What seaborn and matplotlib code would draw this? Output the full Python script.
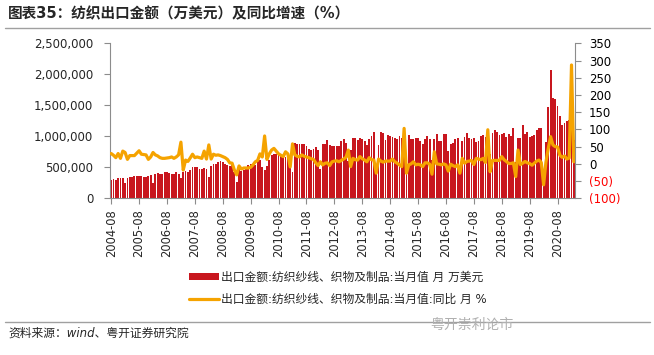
import matplotlib
matplotlib.use("Agg")
import matplotlib.pyplot as plt
from matplotlib.lines import Line2D
from matplotlib.patches import Patch
import pandas as pd
import seaborn as sns

# monthly, 2004-08 .. 2021-03
months = pd.period_range("2004-08", "2021-03", freq="M").strftime("%Y-%m").tolist()

# 出口金额: 当月值 (万美元)
export_value = [
    300000, 310000, 290000, 320000, 330000, 330000, 240000, 320000, 350000, 350000, 355000, 360000,
    365000, 360000, 350000, 345000, 355000, 370000, 240000, 400000, 410000, 390000, 400000, 420000,
    420000, 410000, 395000, 385000, 420000, 400000, 330000, 420000, 440000, 430000, 460000, 500000,
    510000, 500000, 480000, 470000, 490000, 480000, 350000, 520000, 550000, 560000, 580000, 600000,
    590000, 560000, 540000, 520000, 530000, 430000, 270000, 480000, 440000, 450000, 500000, 540000,
    550000, 550000, 540000, 600000, 620000, 500000, 450000, 520000, 620000, 700000, 710000, 710000,
    710000, 710000, 700000, 660000, 660000, 650000, 420000, 890000, 880000, 870000, 870000, 880000,
    850000, 800000, 780000, 800000, 830000, 780000, 480000, 870000, 870000, 940000, 860000, 850000,
    840000, 840000, 850000, 920000, 950000, 900000, 600000, 780000, 970000, 980000, 940000, 970000,
    950000, 920000, 860000, 950000, 1000000, 1070000, 450000, 860000, 1070000, 1050000, 940000, 1020000,
    1000000, 990000, 970000, 960000, 1000000, 980000, 900000, 700000, 1020000, 950000, 950000, 980000,
    980000, 920000, 870000, 950000, 1000000, 950000, 620000, 950000, 1030000, 920000, 920000, 1030000,
    1030000, 770000, 880000, 900000, 960000, 980000, 480000, 930000, 990000, 1050000, 980000, 950000,
    980000, 910000, 930000, 1000000, 1020000, 990000, 920000, 720000, 1050000, 1100000, 1070000, 1020000,
    1030000, 1050000, 990000, 1030000, 1000000, 1130000, 580000, 970000, 980000, 1180000, 1030000, 1070000,
    990000, 1000000, 1020000, 1100000, 1130000, 1130000, 340000, 910000, 1480000, 2070000, 1620000, 1600000,
    1490000, 1330000, 1180000, 1210000, 1250000, 1270000, 1310000, 940000,
]

# 同比 (%)
yoy = [
    30, 25, 18, 30, 16, 37, 33, 13, 24, 24, 24, 31,
    38, 28, 27, 26, 13, 20, 33, 26, 23, 18, 16, 16,
    17, 18, 20, 16, 20, 26, 63, -18, 11, 7, 17, 28,
    18, 20, 18, 16, 37, 14, 55, 14, 28, 25, 26, 24,
    21, 18, 13, 3, 2, -18, -32, -6, -15, -12, -12, -12,
    -10, -3, 6, 10, 29, 20, 81, 13, 29, 40, 45, 37,
    29, 25, 21, 35, 29, -9, 58, 26, 22, 20, 26, 22,
    20, 18, 15, 13, 3, -5, 6, -3, 2, 3, -5, 6,
    8, 9, 6, 10, 14, 19, 40, -8, 16, 12, 11, 21,
    15, 11, 6, 18, 12, 11, -27, 14, 8, 5, 8, 8,
    8, 14, 6, 2, -3, -8, 103, -27, -3, 0, 6, -3,
    -1, -3, -8, 3, 3, -1, -30, 35, 0, -1, -3, 0,
    -3, -21, -1, -5, -8, -3, -27, 16, 2, 7, 8, 10,
    -2, 16, 14, 12, 16, 4, 99, -23, 10, 10, 10, 10,
    21, 12, 7, 1, 1, 3, -37, 40, -2, 2, 7, 3,
    1, -4, 2, 8, 11, 4, -61, 5, 45, 79, 55, 50,
    49, 25, 19, 23, 14, 17, 287, 6,
]

left_ticks = [0, 500000, 1000000, 1500000, 2000000, 2500000]
right_ticks = [-100, -50, 0, 50, 100, 150, 200, 250, 300, 350]

title = "图表35：纺织出口金额（万美元）及同比增速（%）"
bar_label = "出口金额:纺织纱线、织物及制品:当月值 月 万美元"
line_label = "出口金额:纺织纱线、织物及制品:当月值:同比 月 %"
source = "资料来源：wind、粤开证券研究院"
watermark = "粤开崇利论市"

RED = "#C8161E"
ORANGE = "#F5A300"
GREY = "#8C8C8C"

sns.set_style("white")
plt.rcParams["font.family"] = ["DejaVu Sans", "Noto Sans CJK SC"]

df = pd.DataFrame({"pos": range(len(months)), "month": months,
                   "value": export_value, "yoy": yoy})

fig = plt.figure(figsize=(6.54, 3.55), dpi=100)
ax = fig.add_axes([110 / 654, 1 - 198.3 / 355, 465 / 654, 155 / 355])
ax2 = ax.twinx()

sns.barplot(data=df, x="pos", y="value", native_scale=True, color=RED,
            saturation=1, width=0.8, linewidth=0, errorbar=None, ax=ax)
sns.lineplot(data=df, x="pos", y="yoy", color=ORANGE, linewidth=2.3, ax=ax2)

ax.set_xlim(-0.5, len(months) - 0.5)
ax.set_ylim(0, 2500000)
ax2.set_ylim(-100, 350)

ax.set_yticks(left_ticks)
ax.set_yticklabels([f"{v:,}" for v in left_ticks])
ax2.set_yticks(right_ticks)
ax2.set_yticklabels([f"({abs(v)})" if v < 0 else f"{v}" for v in right_ticks])
for lbl, v in zip(ax2.get_yticklabels(), right_ticks):
    lbl.set_color("#FF0000" if v < 0 else "black")

ax.set_xticks(df["pos"][::12])
ax.set_xticklabels(df["month"][::12], rotation=90)

for a in (ax, ax2):
    a.set_xlabel("")
    a.set_ylabel("")
    a.spines["top"].set_visible(False)
    for s in ("left", "right", "bottom"):
        a.spines[s].set_color(GREY)
ax.spines["right"].set_visible(False)
ax2.spines["left"].set_visible(False)
ax2.spines["bottom"].set_visible(False)

ax.tick_params(axis="y", which="both", left=True, length=4, color=GREY,
               labelsize=8.5, pad=8)
ax.tick_params(axis="x", bottom=True, length=4, color=GREY, labelsize=8.3, pad=4)
ax2.tick_params(axis="y", right=True, length=4, color=GREY, labelsize=8.5, pad=6)

fig.text(8 / 654, 1 - 14 / 355, title, fontsize=10.5, fontweight="bold",
         va="center", ha="left", family=["DejaVu Sans", "Noto Sans CJK SC"])
fig.add_artist(Line2D([5 / 654, 650 / 654], [1 - 28 / 355] * 2,
                      transform=fig.transFigure, color="#A0A0A0", lw=1))

handles = [Patch(facecolor=RED, edgecolor="none"),
           Line2D([0], [0], color=ORANGE, lw=2.3)]
fig.legend(handles, [bar_label, line_label], loc="center left",
           bbox_to_anchor=(178 / 654, 1 - 288 / 355), frameon=False,
           fontsize=8.5, handlelength=2.6, handleheight=0.5,
           handletextpad=0.15, labelspacing=0.75)

fig.add_artist(Line2D([5 / 654, 650 / 654], [1 - 322 / 355] * 2,
                      transform=fig.transFigure, color="#A0A0A0", lw=1))
fig.text(8 / 654, 1 - 333 / 355, source, fontsize=8.5, style="italic",
         va="center", ha="left")
fig.text(430 / 654, 1 - 325 / 355, watermark, fontsize=10, color="#B0B0B0",
         va="center", ha="left")

fig.savefig("out.png", dpi=100)
